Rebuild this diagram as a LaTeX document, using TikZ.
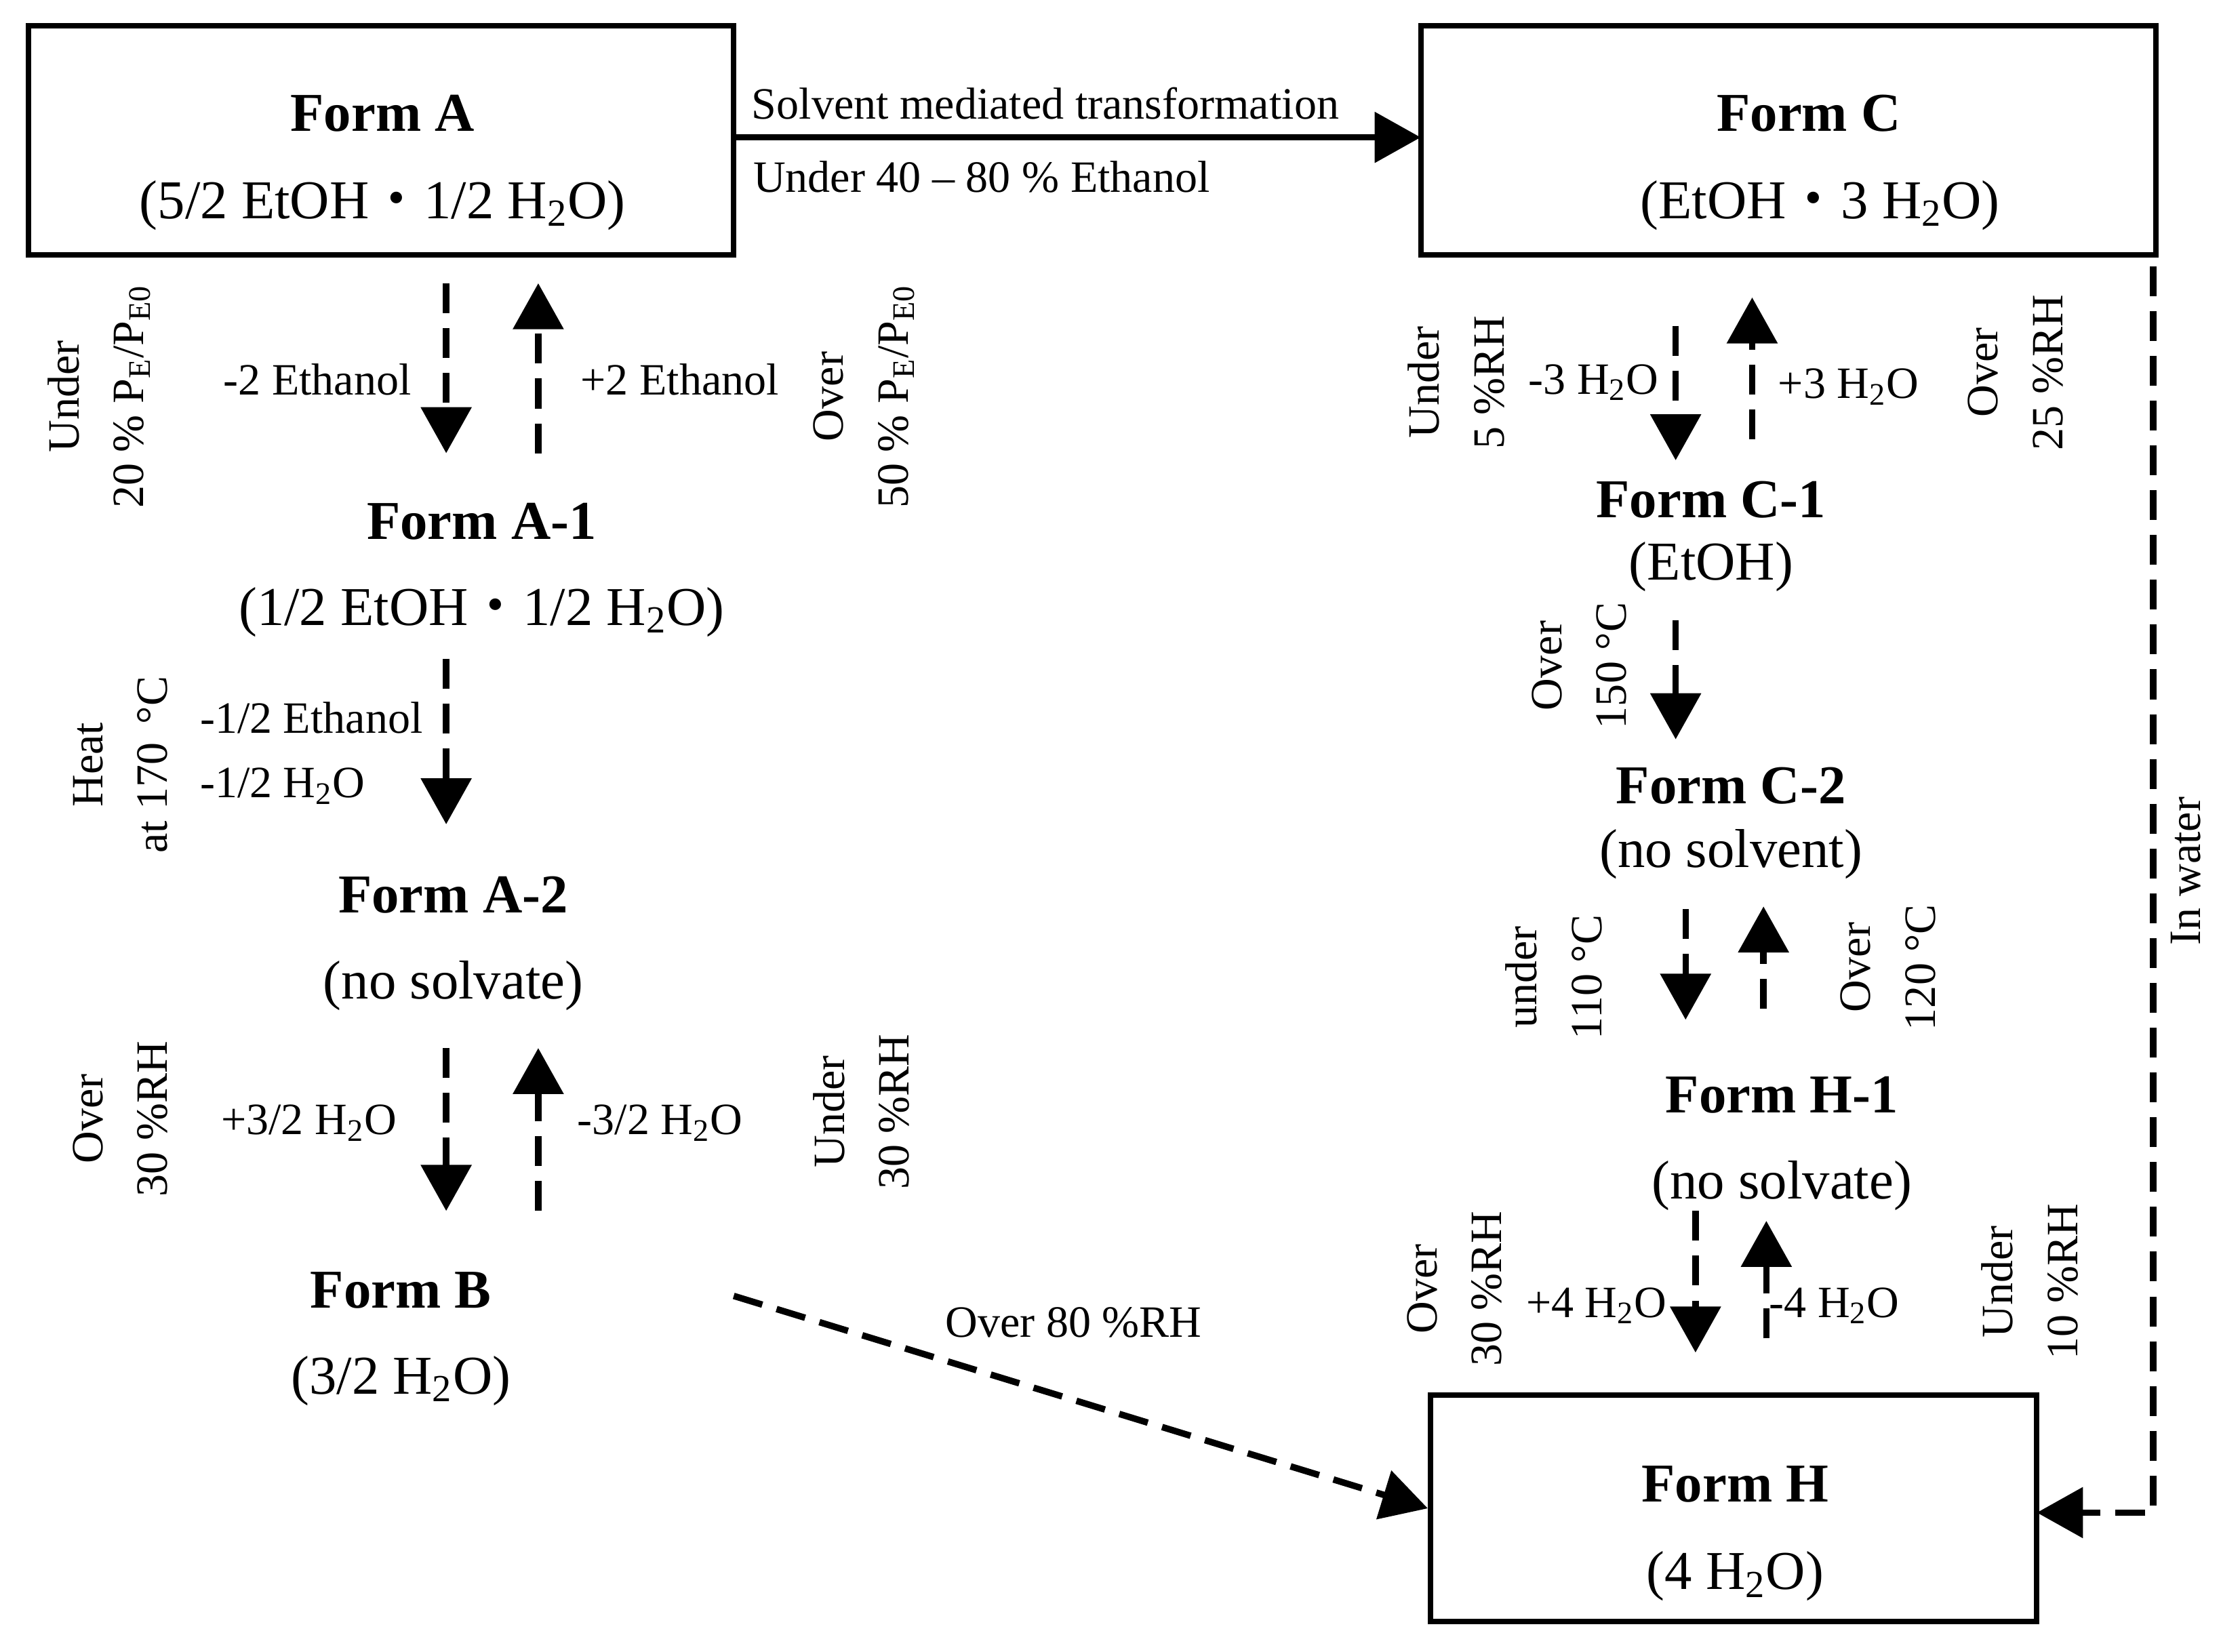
\documentclass[tikz,border=0pt]{standalone}
\usepackage{fontspec}
\setmainfont{Liberation Serif}
\newfontfamily\cjk{Noto Sans CJK JP}
\usetikzlibrary{arrows.meta}
\newcommand{\md}{{\cjk ・}}
\newcommand{\HO}[1]{#1\,H\textsubscript{2}O}
\begin{document}
\begin{tikzpicture}[x=0.02cm,y=-0.02cm,
  big/.style={font=\fontsize{22}{26}\selectfont},
  bigb/.style={font=\fontsize{22}{26}\selectfont\bfseries},
  sm/.style={font=\fontsize{18}{24}\selectfont},
  rot/.style={font=\fontsize{18}{26}\selectfont,rotate=90,align=center},
  box/.style={draw,line width=2.2pt},
  tip/.style={-{Triangle[length=0.65cm,width=0.7cm]}},
  da/.style={tip,line width=2.6pt,dash pattern=on 12pt off 6pt},
  sa/.style={tip,line width=2.6pt}]
\useasboundingbox (0,0) rectangle (1568,1166);
% boxes
\draw[box] (20,18) rectangle (518,180);
\draw[box] (1003,18) rectangle (1522,180);
\draw[box] (1010,985) rectangle (1438,1145);
\node[bigb] (fa) at (270,80) {Form A};
\node[big] (fa2) at (270,145) {(5/2 EtOH\md1/2 H\textsubscript{2}O)};
\node[bigb] (fc) at (1277,80) {Form C};
\node[big] (fc2) at (1285,145) {(EtOH\md3 H\textsubscript{2}O)};
\node[bigb] (fh) at (1225,1048) {Form H};
\node[big] (fh2) at (1225,1113) {(4 H\textsubscript{2}O)};
% A -> C
\coordinate (ar) at (518,97); \coordinate (cl) at (1003,97);
\draw[sa] (ar) -- (cl);
\node[sm] (smt) at (738,73) {Solvent mediated transformation};
\node[sm] (u40) at (693,125) {Under 40 -- 80 \% Ethanol};
% A <-> A-1
\draw[da] (315,200) -- (315,320);
\draw[da] (380,320) -- (380,200);
\node[sm] (l1) at (224,268) {-2 Ethanol};
\node[sm] (l2) at (480,268) {+2 Ethanol};
\node[rot] (r1) at (70,280) {Under\\20 \% P\textsubscript{E}/P\textsubscript{E0}};
\node[rot] (r2) at (610,280) {Over\\50 \% P\textsubscript{E}/P\textsubscript{E0}};
\node[bigb] (fa1) at (340,368) {Form A-1};
\node[big] (fa12) at (340,432) {(1/2 EtOH\md1/2 H\textsubscript{2}O)};
% A-1 -> A-2
\draw[da] (315,465) -- (315,582);
\node[sm,anchor=west] (l3) at (135,507) {-1/2 Ethanol};
\node[sm,anchor=west] (l4) at (135,555) {-1/2 H\textsubscript{2}O};
\node[rot] (r3) at (85,540) {Heat\\at 170 \,°C};
\node[bigb] (fa3) at (320,632) {Form A-2};
\node[big] (fa32) at (320,696) {(no solvate)};
% A-2 <-> B
\draw[da] (315,740) -- (315,855);
\draw[da] (380,855) -- (380,740);
\node[sm] (l5) at (218,793) {+3/2 H\textsubscript{2}O};
\node[sm] (l6) at (466,793) {-3/2 H\textsubscript{2}O};
\node[rot] (r4) at (85,790) {Over\\30 \%RH};
\node[rot] (r5) at (608,785) {Under\\30 \%RH};
\node[bigb] (fb) at (283,911) {Form B};
\node[big] (fb2) at (283,975) {(3/2 H\textsubscript{2}O)};
\coordinate (bs) at (518,915); \coordinate (he) at (1008,1065);
\draw[da] (bs) -- (he);
\node[sm] (l7) at (758,934) {Over 80 \%RH};
% C <-> C-1
\draw[da] (1183,230) -- (1183,325);
\draw[da] (1237,310) -- (1237,210);
\node[sm] (l8) at (1125,270) {-3 H\textsubscript{2}O};
\node[sm] (l9) at (1305,273) {+3 H\textsubscript{2}O};
\node[rot] (r6) at (1028,270) {Under\\5 \%RH};
\node[rot] (r7) at (1423,263) {Over\\25 \%RH};
\node[bigb] (fc1) at (1208,353) {Form C-1};
\node[big] (fc12) at (1208,400) {(EtOH)};
\draw[da] (1183,438) -- (1183,522);
\node[rot] (r8) at (1115,470) {Over\\150 °C};
\node[bigb] (fc3) at (1222,555) {Form C-2};
\node[big] (fc32) at (1222,603) {(no solvent)};
\draw[da] (1190,642) -- (1190,720);
\draw[da] (1245,712) -- (1245,640);
\node[rot] (r9) at (1097,690) {under\\110 °C};
\node[rot] (r10) at (1333,683) {Over\\120 °C};
\node[bigb] (fh1) at (1258,773) {Form H-1};
\node[big] (fh12) at (1258,837) {(no solvate)};
\draw[da] (1197,855) -- (1197,955);
\draw[da] (1247,945) -- (1247,862);
\node[sm] (l10) at (1127,922) {+4 H\textsubscript{2}O};
\node[sm] (l11) at (1295,922) {-4 H\textsubscript{2}O};
\node[rot] (r11) at (1027,910) {Over\\30 \%RH};
\node[rot] (r12) at (1433,905) {Under\\10 \%RH};
% in water
\coordinate (w1) at (1520,188); \coordinate (w2) at (1520,1068); \coordinate (w3) at (1438,1068);
\draw[da] (w1) -- (w2) -- (w3);
\node[rot] (r13) at (1543,615) {In water};
\end{tikzpicture}
\end{document}
